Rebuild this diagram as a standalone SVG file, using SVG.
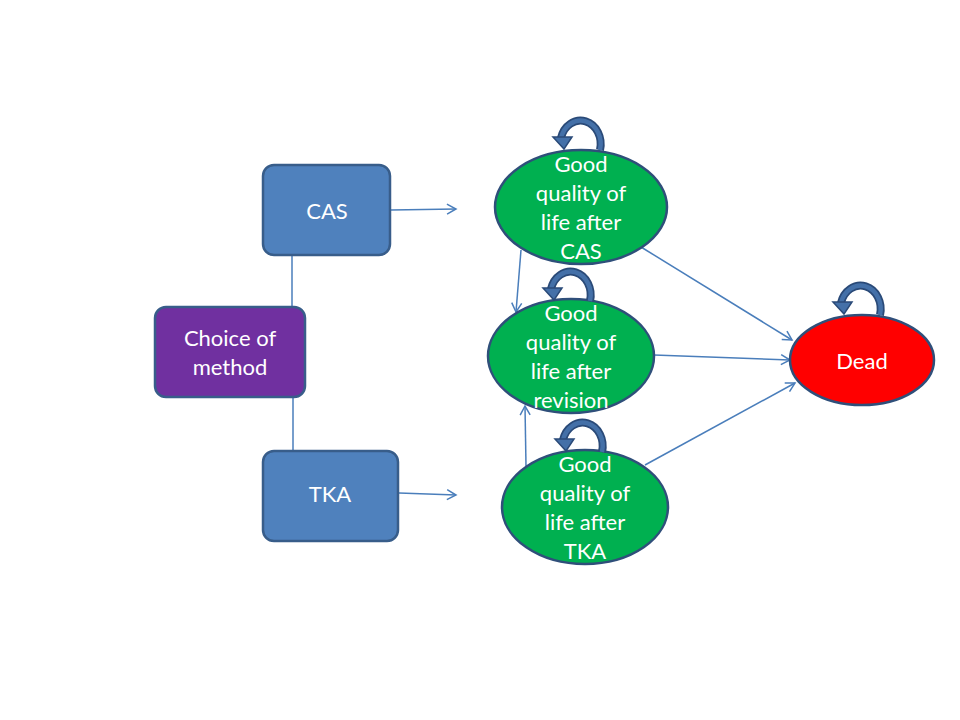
<svg xmlns="http://www.w3.org/2000/svg" xmlns:xlink="http://www.w3.org/1999/xlink" width="960" height="720" viewBox="0 0 960 720">
<style>
.box{fill:#4F81BD;stroke:#385D8A;stroke-width:2.5}
.lbl{font-family:Lato,"Liberation Sans",sans-serif;font-size:22px;fill:#FFFFFF;text-anchor:middle}
.ell{fill:#00B050;stroke:#2F4F7A;stroke-width:2.5}
.con{stroke:#4A7EBB;stroke-width:1.5;fill:none}
</style>
<defs>
<marker id="ah" markerWidth="12" markerHeight="12" refX="10" refY="6" orient="auto" markerUnits="userSpaceOnUse">
<path d="M1,1 L10,6 L1,11" fill="none" stroke="#4A7EBB" stroke-width="1.5"/>
</marker>
<g id="loop">
<path d="M20 10 A19 22 0 1 0 -19 -2" fill="none" stroke="#2A4A78" stroke-width="8"/>
<path d="M20 10 A19 22 0 1 0 -19 -2" fill="none" stroke="#4470A8" stroke-width="4.5"/>
<polygon points="-27,-3 -8,-3 -16,9" fill="#4470A8" stroke="#2A4A78" stroke-width="1.5"/>
</g>
</defs>
<rect width="960" height="720" fill="#FFFFFF"/>
<g id="connectors">
<line class="con" x1="292" y1="255" x2="292" y2="307"/>
<line class="con" x1="293" y1="397" x2="293" y2="451"/>
<line class="con" x1="391" y1="210" x2="456" y2="209" marker-end="url(#ah)"/>
<line class="con" x1="399" y1="493" x2="456" y2="495" marker-end="url(#ah)"/>
<line class="con" x1="521" y1="250" x2="516" y2="312" marker-end="url(#ah)"/>
<line class="con" x1="526" y1="466" x2="525" y2="406" marker-end="url(#ah)"/>
<line class="con" x1="641" y1="247" x2="792" y2="340" marker-end="url(#ah)"/>
<line class="con" x1="654" y1="355" x2="790" y2="360" marker-end="url(#ah)"/>
<line class="con" x1="645" y1="465" x2="795" y2="383" marker-end="url(#ah)"/>
</g>
<g id="cas">
<rect class="box" x="263" y="165" width="127" height="90" rx="11"/>
<text class="lbl" x="327" y="219">CAS</text>
</g>
<g id="choice">
<rect class="box" x="155" y="307" width="150" height="90" rx="11" style="fill:#7030A0"/>
<text class="lbl" x="230" y="346">Choice of</text>
<text class="lbl" x="230" y="375">method</text>
</g>
<g id="tka">
<rect class="box" x="263" y="451" width="135" height="90" rx="11"/>
<text class="lbl" x="330" y="502">TKA</text>
</g>
<g id="good-cas">
<ellipse class="ell" cx="581" cy="207" rx="86" ry="57"/>
<use xlink:href="#loop" x="580" y="140"/>
<text class="lbl" x="581" y="172">Good</text>
<text class="lbl" x="581" y="201">quality of</text>
<text class="lbl" x="581" y="230">life after</text>
<text class="lbl" x="581" y="259">CAS</text>
</g>
<g id="good-revision">
<ellipse class="ell" cx="571" cy="356" rx="83" ry="57"/>
<use xlink:href="#loop" x="570" y="291"/>
<text class="lbl" x="571" y="321">Good</text>
<text class="lbl" x="571" y="350">quality of</text>
<text class="lbl" x="571" y="379">life after</text>
<text class="lbl" x="571" y="408">revision</text>
</g>
<g id="good-tka">
<ellipse class="ell" cx="585" cy="507" rx="83" ry="57"/>
<use xlink:href="#loop" x="582" y="442"/>
<text class="lbl" x="585" y="472">Good</text>
<text class="lbl" x="585" y="501">quality of</text>
<text class="lbl" x="585" y="530">life after</text>
<text class="lbl" x="585" y="559">TKA</text>
</g>
<g id="dead">
<ellipse class="ell" cx="862" cy="360" rx="72" ry="45" style="fill:#FF0000"/>
<use xlink:href="#loop" x="860" y="305"/>
<text class="lbl" x="862" y="369">Dead</text>
</g>
</svg>
